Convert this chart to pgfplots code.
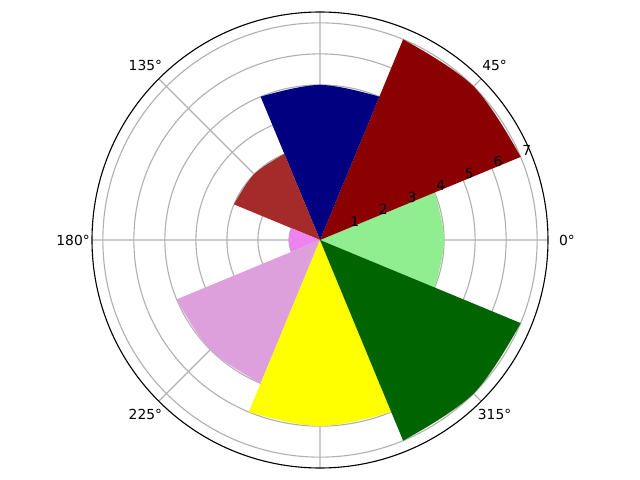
\documentclass[border=0pt]{standalone}
\usepackage{fontspec}
\setmainfont{DejaVu Sans}
\usepackage{pgfplots}
\usepgfplotslibrary{polar}
\pgfplotsset{compat=1.18}

\definecolor{cLightgreen}{HTML}{90EE90}
\definecolor{cDarkred}{HTML}{8B0000}
\definecolor{cNavy}{HTML}{000080}
\definecolor{cBrown}{HTML}{A52A2A}
\definecolor{cViolet}{HTML}{EE82EE}
\definecolor{cPlum}{HTML}{DDA0DD}
\definecolor{cYellow}{HTML}{FFFF00}
\definecolor{cDarkgreen}{HTML}{006400}
\definecolor{gridgray}{HTML}{B0B0B0}

% one polar bar: colour, start angle, centre angle, end angle, height
\newcommand\polarbar[5]{%
  \addplot[fill=#1, draw=none] coordinates {(0,0) (#2,#5) (#3,#5) (#4,#5)};
  \addplot[fill=#1, draw=none, smooth, tension=0.62] coordinates {(#2,#5) (#3,#5) (#4,#5)};
}

\begin{document}
\begin{tikzpicture}
\begin{polaraxis}[
  name=ax,
  scale only axis,
  width=4.56in, height=4.56in,
  ymin=0, ymax=7.35,
  xtick={0,45,...,315},
  xticklabels={},
  ytick={1,...,7},
  yticklabels={},
  grid=major,
  major grid style={draw=gridgray, line width=0.8pt},
  axis line style={black, line width=0.8pt},
  y axis line style={draw=none},
  major tick length=0pt,
  clip=false,
]
  \polarbar{cLightgreen}{-22.5}{0}{22.5}{4}
  \polarbar{cDarkred}{22.5}{45}{67.5}{7}
  \polarbar{cNavy}{67.5}{90}{112.5}{5}
  \polarbar{cBrown}{112.5}{135}{157.5}{3}
  \polarbar{cViolet}{157.5}{180}{202.5}{1}
  \polarbar{cPlum}{202.5}{225}{247.5}{5}
  \polarbar{cYellow}{247.5}{270}{292.5}{6}
  \polarbar{cDarkgreen}{292.5}{315}{337.5}{7}

  \pgfplotsinvokeforeach{1,...,7}{
    \node[anchor=south west, inner sep=1pt, font=\fontsize{10}{12}\selectfont]
      at (axis cs:22.5,#1) {#1};
  }
  \pgfplotsinvokeforeach{0,45,135,180,225,315}{
    \node[anchor=center, inner sep=0pt, font=\fontsize{10}{12}\selectfont]
      at (axis cs:#1,7.96) {#1°};
  }
\end{polaraxis}
\pgfresetboundingbox
\path (ax.center) ++(-3.2in,-2.4in) rectangle ++(6.4in,4.8in);
\end{tikzpicture}
\end{document}
